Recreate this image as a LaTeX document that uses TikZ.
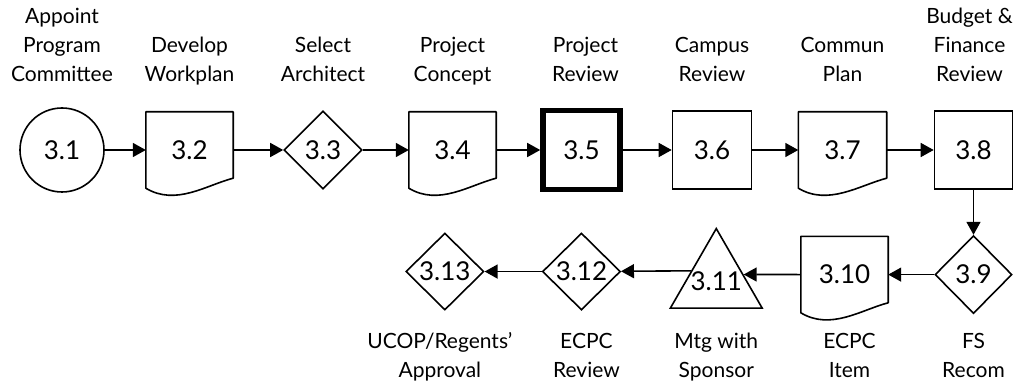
\documentclass[tikz,border=0pt]{standalone}
\usepackage{fontspec}
\setmainfont{Lato}
\usetikzlibrary{shapes.geometric, arrows.meta, positioning, calc}
\newcommand{\lblfont}{\fontsize{21}{29}\selectfont}
\newcommand{\idfont}{\fontsize{26}{30}\selectfont}

\begin{document}
\begin{tikzpicture}[
    shp/.style={draw, line width=1.6pt, inner sep=0pt, font=\idfont},
    circ/.style={shp, circle, minimum size=84pt},
    docbox/.style={inner sep=0pt, font=\idfont, minimum width=87pt, minimum height=76pt},
    dia/.style={shp, diamond, minimum width=78pt, minimum height=78pt},
    sqbox/.style={shp, rectangle, minimum width=78pt, minimum height=78pt},
    tribox/.style={shp, regular polygon, regular polygon sides=3, inner sep=-14pt, minimum size=106pt},
    docline/.style={line width=1.6pt, line join=round},
    lbl/.style={font=\lblfont, align=center, anchor=base, inner sep=0pt},
    arrow/.style={line width=1.6pt, -{Triangle[length=13pt, width=14pt]}}
]
\useasboundingbox (0,0) rectangle (1013pt,385pt);

% Top row
\node (n31) [circ] at (62pt,235pt) {3.1};
\node (n32) [docbox, right=41pt of n31] {3.2};
\node (n33) [dia, right=50pt of n32] {3.3};
\node (n34) [docbox, right=46pt of n33] {3.4};
\node (n35) [sqbox, line width=5.5pt, minimum width=77pt, minimum height=79pt, right=44pt of n34] {3.5};
\node (n36) [sqbox, minimum width=79pt, right=49pt of n35] {3.6};
\node (n37) [docbox, minimum width=88pt, right=46pt of n36] {3.7};
\node (n38) [sqbox, right=47pt of n37] {3.8};

% Bottom row
\node (n39) [dia, minimum width=77pt, below=45pt of n38] {3.9};
\node (n310) [docbox, left=46pt of n39] {3.10};
\node (n311) [tribox, left=53pt of n310, yshift=-7pt] {3.11};
\node (n312) [dia, minimum height=77pt, below=40pt of n35] {3.12};
\node (n313) [dia, minimum height=77pt, left=57pt of n312] {3.13};

% Document outlines
\foreach \d in {n32,n34,n37,n310}
  \draw[docline] (\d.south west) .. controls +(30pt,-18pt) and ([shift={(-27pt,3pt)}]\d.south east)
    .. ([yshift=10pt]\d.south east) -- (\d.north east) -- (\d.north west) -- cycle;

\draw [arrow] (n31) -- (n32);
\draw [arrow] (n32) -- (n33);
\draw [arrow] (n33) -- (n34);
\draw [arrow] (n34) -- (n35);
\draw [arrow] (n35) -- (n36);
\draw [arrow] (n36) -- (n37);
\draw [arrow] (n37) -- (n38);
\draw [arrow] (n38) -- (n39);
\draw [arrow] (n39) -- (n310);
\draw [arrow] (n310) -- ($(n311.corner 1)!0.58!(n311.corner 3)$);
\draw [arrow] ($(n311.corner 1)!0.535!(n311.corner 2)$) -- (n312);
\draw [arrow] (n312) -- (n313);

% Labels
\coordinate (toprow) at (0,303pt);
\coordinate (botrow) at (0,7pt);
\node (l31) [lbl] at (n31 |- toprow) {Appoint\\Program\\Committee};
\node (l32) [lbl] at (n32 |- toprow) {Develop\\Workplan};
\node (l33) [lbl] at (n33 |- toprow) {Select\\Architect};
\node (l34) [lbl] at (n34 |- toprow) {Project\\Concept};
\node (l35) [lbl, xshift=4pt] at (n35 |- toprow) {Project\\Review};
\node (l36) [lbl] at (n36 |- toprow) {Campus\\Review};
\node (l37) [lbl] at (n37 |- toprow) {Commun\\Plan};
\node (l38) [lbl, xshift=-4pt] at (n38 |- toprow) {Budget \&\\Finance\\Review};
\node (l39) [lbl] at (n39 |- botrow) {FS\\Recom};
\node (l310) [lbl, xshift=5pt] at (n310 |- botrow) {ECPC\\Item};
\node (l311) [lbl] at (n311 |- botrow) {Mtg with\\Sponsor};
\node (l312) [lbl, xshift=5pt] at (n312 |- botrow) {ECPC\\Review};
\node (l313) [lbl, xshift=-5pt] at (n313 |- botrow) {UCOP/Regents'\\Approval};

\end{tikzpicture}
\end{document}
